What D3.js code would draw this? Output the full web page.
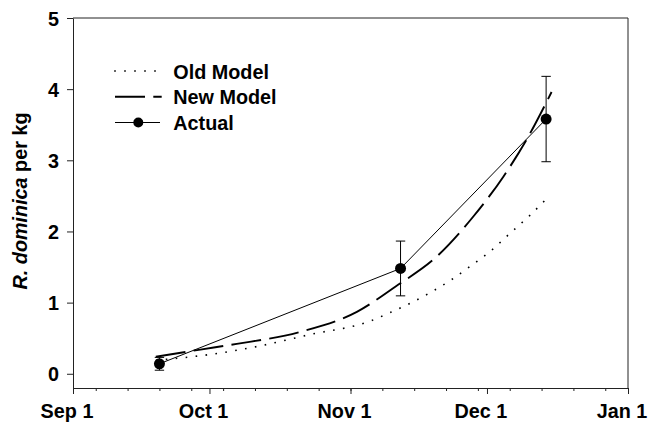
<!DOCTYPE html>
<html><head><meta charset="utf-8">
<script src="https://cdn.jsdelivr.net/npm/d3@7"></script>
<style>
html,body{margin:0;padding:0;background:#fff;}
svg{display:block;font-family:"Liberation Sans",Arial,sans-serif;font-weight:bold;}
</style></head>
<body><svg id="c" width="648" height="426"></svg>
<script>
// ---- data (x = days after Sep 1) ----
const seasonStart = "2009-09-01";
const seasonEnd = "2010-01-01";
const monthTickDates = ["2009-09-01","2009-10-01","2009-11-01","2009-12-01","2010-01-01"];
const monthTickLabels = ["Sep 1","Oct 1","Nov 1","Dec 1","Jan 1"];
const yTicks = [0,1,2,3,4,5];

const actualDays = [19, 72, 104];
const actualMeans = [0.14, 1.48, 3.58];
const actualErr = [0.09, 0.385, 0.6];

const newModelDays = [18.2, 28, 36, 50, 62.4, 71, 80, 88, 94.6, 99.7, 105.2];
const newModelVals = [0.24, 0.34, 0.42, 0.59, 0.87, 1.23, 1.65, 2.21, 2.77, 3.29, 3.96];

const oldModelDays = [18.2, 30, 41, 52, 65.3, 69.7, 74.1, 78.5, 82.9, 87.3, 91.7, 96, 100.5, 104.7];
const oldModelVals = [0.19, 0.27, 0.39, 0.55, 0.74, 0.86, 0.99, 1.14, 1.31, 1.51, 1.72, 1.97, 2.23, 2.50];

const legendLabels = ["Old Model","New Model","Actual"];

// ---- drawing ----
const parse = d3.utcParse("%Y-%m-%d");
const t0 = parse(seasonStart);
const toDate = d => new Date(t0.getTime() + d*864e5);

const L=73, R=628, T=18, B=388;
const x = d3.scaleUtc().domain([t0, parse(seasonEnd)]).range([L,R]);
const y = d3.scaleLinear().domain([-0.2,5]).range([B,T]);
const FS = 19.8;
const ink = "#000", axisInk = "#222";
const FONT = "Liberation Sans, Arial, sans-serif";

const svg = d3.select("#c");

// minor weekly ticks
const weeks = d3.utcWeek.range(t0, parse(seasonEnd));
svg.append("g").attr("transform",`translate(0,${B})`)
  .call(d3.axisBottom(x).tickValues(weeks).tickSize(3).tickSizeOuter(0).tickFormat(""))
  .call(g=>{g.select(".domain").remove(); g.selectAll("line").attr("stroke",axisInk);});

// major x axis
const xAx = svg.append("g").attr("transform",`translate(0,${B})`)
  .call(d3.axisBottom(x).tickValues(monthTickDates.map(parse)).tickSize(6).tickSizeOuter(0)
        .tickFormat((d,i)=>monthTickLabels[i]));
xAx.select(".domain").attr("stroke",axisInk);
xAx.selectAll("line").attr("stroke",axisInk);
xAx.selectAll("text").attr("y",30).attr("dy",0)
  .attr("transform",`translate(-6.5,0)`)
  .attr("font-size",FS).attr("font-weight","bold").attr("fill",ink)
  .attr("font-family",FONT);

// y axis
const yAx = svg.append("g").attr("transform",`translate(${L},0)`)
  .call(d3.axisLeft(y).tickValues(yTicks).tickSize(6).tickSizeOuter(0).tickFormat(d3.format("d")));
yAx.select(".domain").attr("stroke",axisInk);
yAx.selectAll("line").attr("stroke",axisInk);
yAx.selectAll("text").attr("x",-14).attr("dy","0.36em")
  .attr("font-size",FS).attr("font-weight","bold").attr("fill",ink)
  .attr("font-family",FONT);

// frame top & right
svg.append("line").attr("x1",L).attr("x2",R).attr("y1",T).attr("y2",T).attr("stroke",axisInk);
svg.append("line").attr("x1",R).attr("x2",R).attr("y1",T).attr("y2",B).attr("stroke",axisInk);

// y label
const yl = svg.append("text")
  .attr("transform",`translate(27,201) rotate(-90)`)
  .attr("text-anchor","middle").attr("font-size",FS).attr("fill",ink);
yl.append("tspan").attr("font-style","italic").text("R. dominica");
yl.append("tspan").text(" per kg");

// curves
const line = d3.line().x(d=>x(toDate(d[0]))).y(d=>y(d[1])).curve(d3.curveMonotoneX);
const oldPts = oldModelDays.map((d,i)=>[d,oldModelVals[i]]);
const newPts = newModelDays.map((d,i)=>[d,newModelVals[i]]);
const actPts = actualDays.map((d,i)=>[d,actualMeans[i]]);

const oldStyle = s=>s.attr("fill","none").attr("stroke",ink).attr("stroke-width",1.6).attr("stroke-dasharray","1.6,8.4");
const newStyle = s=>s.attr("fill","none").attr("stroke",ink).attr("stroke-width",1.9).attr("stroke-dasharray","30,8.3");

svg.append("path").datum(oldPts).attr("d",line).call(oldStyle);
svg.append("path").datum(newPts).attr("d",line).call(newStyle);
svg.append("path").datum(actPts).attr("d",d3.line().x(d=>x(toDate(d[0]))).y(d=>y(d[1])))
  .attr("fill","none").attr("stroke",ink).attr("stroke-width",1);

// error bars
const eb = svg.append("g").attr("stroke",ink).attr("stroke-width",1);
actPts.forEach((p,i)=>{
  const cx = x(toDate(p[0])), hi = y(p[1]+actualErr[i]), lo = y(p[1]-actualErr[i]);
  eb.append("line").attr("x1",cx).attr("x2",cx).attr("y1",hi).attr("y2",lo);
  eb.append("line").attr("x1",cx-4.7).attr("x2",cx+4.7).attr("y1",hi).attr("y2",hi);
  eb.append("line").attr("x1",cx-4.7).attr("x2",cx+4.7).attr("y1",lo).attr("y2",lo);
});
svg.append("g").selectAll("circle").data(actPts).join("circle")
  .attr("cx",d=>x(toDate(d[0]))).attr("cy",d=>y(d[1])).attr("r",5.5).attr("fill",ink);

// legend
const lg = svg.append("g");
const rows = [78.5, 104, 129.5];
lg.append("line").attr("x1",114.2).attr("x2",156).attr("y1",rows[0]-7.5).attr("y2",rows[0]-7.5).call(oldStyle);
lg.append("line").attr("x1",115).attr("x2",161.7).attr("y1",rows[1]-7.3).attr("y2",rows[1]-7.3).call(newStyle);
lg.append("line").attr("x1",115).attr("x2",160).attr("y1",rows[2]-7).attr("y2",rows[2]-7).attr("stroke",ink).attr("stroke-width",1);
lg.append("circle").attr("cx",138.3).attr("cy",rows[2]-7).attr("r",5).attr("fill",ink);
legendLabels.forEach((t,i)=>{
  lg.append("text").attr("x",173.3).attr("y",rows[i])
    .attr("font-size",FS).attr("fill",ink).text(t);
});
</script></body></html>
